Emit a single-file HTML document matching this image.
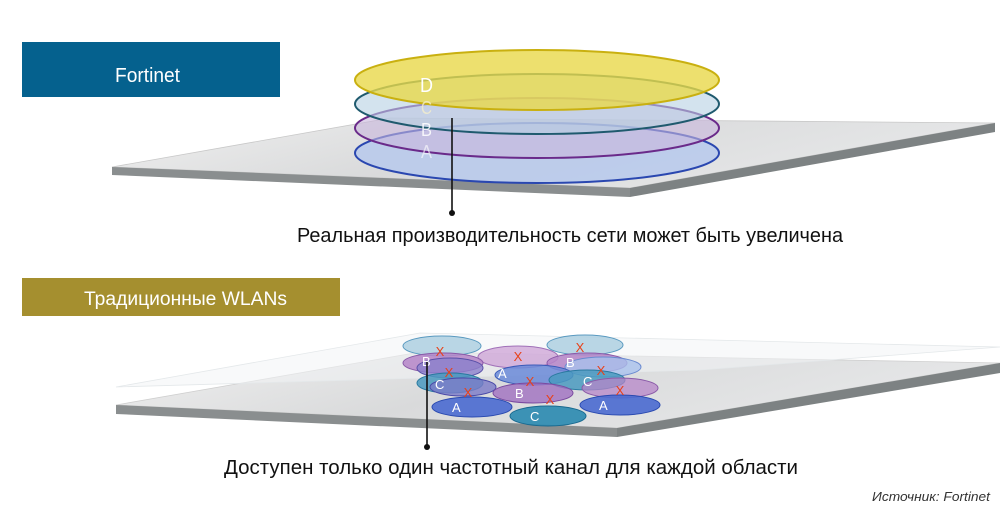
<!DOCTYPE html>
<html><head><meta charset="utf-8"><style>
html,body{margin:0;padding:0;background:#fff;}
svg{display:block}
text{font-family:"Liberation Sans Narrow","Liberation Sans",sans-serif;}
</style></head><body>
<svg width="1000" height="512" viewBox="0 0 1000 512" xmlns="http://www.w3.org/2000/svg">
<defs>
<linearGradient id="pl" x1="0" y1="0" x2="1" y2="0.3">
<stop offset="0" stop-color="#f0f0f0"/><stop offset="0.5" stop-color="#d9dadb"/><stop offset="1" stop-color="#e6e7e8"/></linearGradient>
</defs>
<!-- top plate -->
<polygon points="112,167 390,118 995,123 630,188" fill="url(#pl)" stroke="#c8c8c8" stroke-width="0.8"/>
<polygon points="112,167 630,188 630,197 112,175" fill="#8a8e8f"/>
<polygon points="630,188 995,123 995,132 630,197" fill="#7d8283"/>
<!-- top ellipses -->
<ellipse cx="537" cy="153" rx="182" ry="30" fill="#b7c9ec" fill-opacity="0.85" stroke="#2a47b0" stroke-width="2"/>
<ellipse cx="537" cy="128" rx="182" ry="30" fill="#c8b6dc" fill-opacity="0.6" stroke="#6a2a8a" stroke-width="2"/>
<ellipse cx="537" cy="104" rx="182" ry="30" fill="#b6d0e2" fill-opacity="0.6" stroke="#1f5a6e" stroke-width="2"/>
<ellipse cx="537" cy="80" rx="182" ry="30" fill="#e8d84a" fill-opacity="0.8" stroke="#c9b010" stroke-width="2"/>
<text x="420" y="92" font-size="20" fill="#fff" textLength="13" lengthAdjust="spacingAndGlyphs">D</text>
<text x="421" y="114" font-size="18" fill="#f4eecc" fill-opacity="0.8" textLength="11" lengthAdjust="spacingAndGlyphs">C</text>
<text x="421" y="136" font-size="18" fill="#fff" fill-opacity="0.85" textLength="11" lengthAdjust="spacingAndGlyphs">B</text>
<text x="421" y="158" font-size="18" fill="#fff" fill-opacity="0.6" textLength="11" lengthAdjust="spacingAndGlyphs">A</text>
<line x1="452" y1="118" x2="452" y2="212" stroke="#111" stroke-width="1.6"/>
<circle cx="452" cy="213" r="3" fill="#111"/>
<text x="297" y="242" font-size="20" fill="#111" textLength="546" lengthAdjust="spacingAndGlyphs">Реальная производительность сети может быть увеличена</text>
<!-- boxes -->
<rect x="22" y="42" width="258" height="55" fill="#05618e"/>
<text x="115" y="82" font-size="20" fill="#fff" textLength="65" lengthAdjust="spacingAndGlyphs">Fortinet</text>
<rect x="22" y="278" width="318" height="38" fill="#a58f2f"/>
<text x="84" y="305" font-size="19" fill="#fff" textLength="203" lengthAdjust="spacingAndGlyphs">Традиционные WLANs</text>
<!-- bottom plate -->
<polygon points="116,405 420,352 1000,363 617,428" fill="url(#pl)" stroke="#cfcfcf" stroke-width="0.8"/>
<polygon points="116,405 617,428 617,437 116,414" fill="#8a8e8f"/>
<polygon points="617,428 1000,363 1000,373 617,437" fill="#7d8283"/>
<polygon points="116,387 420,333 1000,347 700,370" fill="#f2f4f5" fill-opacity="0.55" stroke="#e4e8ea" stroke-width="0.8"/>
<!-- small ellipses -->
<g stroke-width="1">
<ellipse cx="442" cy="346" rx="39" ry="10" fill="#a9cde0" fill-opacity="0.8" stroke="#5a9ac0"/>
<ellipse cx="585" cy="345" rx="38" ry="10" fill="#a9cde0" fill-opacity="0.8" stroke="#5a9ac0"/>
<ellipse cx="518" cy="357" rx="40" ry="11" fill="#cfa8d8" fill-opacity="0.8" stroke="#a070b8"/>
<ellipse cx="443" cy="363" rx="40" ry="10" fill="#b585c8" fill-opacity="0.85" stroke="#8a5aa8"/>
<ellipse cx="587" cy="363" rx="40" ry="10" fill="#b585c8" fill-opacity="0.85" stroke="#8a5aa8"/>
<ellipse cx="450" cy="368" rx="33" ry="10" fill="#8a80cc" fill-opacity="0.8" stroke="#5a50a8"/>
<ellipse cx="603" cy="367" rx="38" ry="10" fill="#a8c0ec" fill-opacity="0.8" stroke="#6a8ad0"/>
<ellipse cx="534" cy="375" rx="39" ry="10" fill="#6a8ad8" fill-opacity="0.85" stroke="#3a5ab8"/>
<ellipse cx="450" cy="383" rx="33" ry="10" fill="#4a9ac0" fill-opacity="0.85" stroke="#2a7aa0"/>
<ellipse cx="587" cy="380" rx="38" ry="10" fill="#4a9ac0" fill-opacity="0.85" stroke="#2a7aa0"/>
<ellipse cx="463" cy="387" rx="33" ry="9" fill="#7a7ac8" fill-opacity="0.8" stroke="#4a4aa8"/>
<ellipse cx="620" cy="388" rx="38" ry="10" fill="#b585c8" fill-opacity="0.75" stroke="#8a5aa8"/>
<ellipse cx="533" cy="393" rx="40" ry="10" fill="#a070c0" fill-opacity="0.8" stroke="#7a4aa0"/>
<ellipse cx="472" cy="407" rx="40" ry="10" fill="#4a6ad0" fill-opacity="0.9" stroke="#2a4ab0"/>
<ellipse cx="620" cy="405" rx="40" ry="10" fill="#4a6ad0" fill-opacity="0.9" stroke="#2a4ab0"/>
<ellipse cx="548" cy="416" rx="38" ry="10" fill="#2a8ab0" fill-opacity="0.9" stroke="#1a6a90"/>
</g>
<g font-size="13" fill="#fff">
<text x="422" y="366">B</text><text x="566" y="367">B</text><text x="498" y="378">A</text>
<text x="435" y="389">C</text><text x="583" y="386">C</text><text x="515" y="398">B</text>
<text x="452" y="412">A</text><text x="599" y="410">A</text><text x="530" y="421">C</text>
</g>
<g font-size="13" fill="#e8421a" text-anchor="middle">
<text x="440" y="356">X</text><text x="518" y="361">X</text><text x="580" y="352">X</text>
<text x="449" y="377">X</text><text x="601" y="375">X</text><text x="468" y="397">X</text>
<text x="530" y="386">X</text><text x="550" y="404">X</text><text x="620" y="395">X</text>
</g>
<line x1="427" y1="362" x2="427" y2="447" stroke="#111" stroke-width="1.6"/>
<circle cx="427" cy="447" r="3" fill="#111"/>
<text x="224" y="474" font-size="20" fill="#111" textLength="574" lengthAdjust="spacingAndGlyphs">Доступен только один частотный канал для каждой области</text>
<text x="990" y="501" font-size="13" fill="#333" font-style="italic" text-anchor="end" textLength="118" lengthAdjust="spacingAndGlyphs">Источник: Fortinet</text>
</svg>
</body></html>
